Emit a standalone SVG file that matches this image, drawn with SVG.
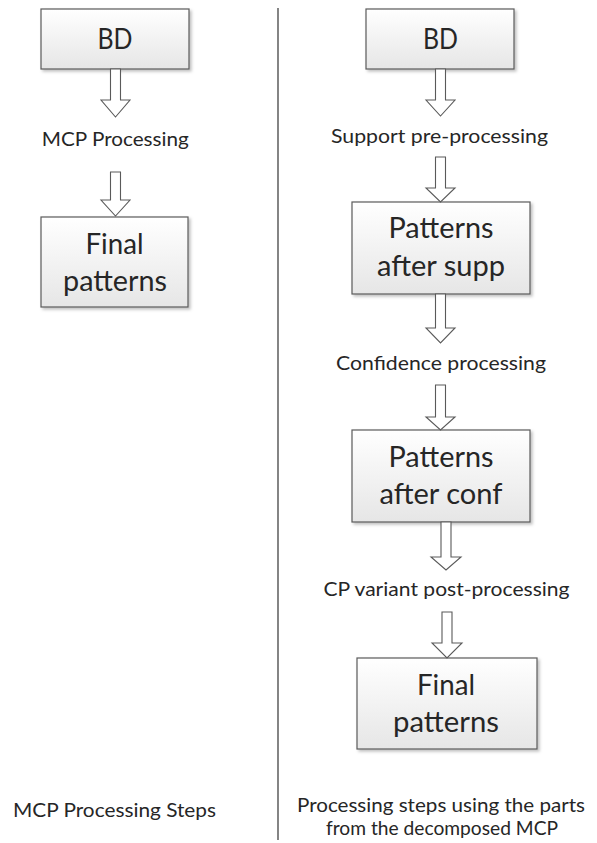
<svg xmlns="http://www.w3.org/2000/svg" width="597" height="843" viewBox="0 0 597 843">
  <defs>
    <linearGradient id="boxfill" x1="0" y1="0" x2="0" y2="1">
      <stop offset="0" stop-color="#ffffff"/>
      <stop offset="1" stop-color="#e6e6e6"/>
    </linearGradient>
    <filter id="shadow" x="-10%" y="-10%" width="125%" height="130%">
      <feDropShadow dx="2" dy="2" stdDeviation="1.5" flood-color="#000000" flood-opacity="0.25"/>
    </filter>
  </defs>
  <style>
    .box { fill: url(#boxfill); stroke: #5a5a5a; stroke-width: 1.2; filter: url(#shadow); }
    .arrow { fill: #ffffff; stroke: #5a5a5a; stroke-width: 1.1; stroke-linejoin: miter; }
    .big { font-family: Lato, "Open Sans", "Liberation Sans", sans-serif; font-size: 28px; fill: #262626; text-anchor: middle; }
    .lbl { font-family: Lato, "Open Sans", "Liberation Sans", sans-serif; font-size: 20px; fill: #262626; text-anchor: middle; }
    .divider { stroke: #333333; stroke-width: 1.2; }
  </style>
  <rect width="597" height="843" fill="#ffffff"/>

  <line class="divider" x1="278" y1="8" x2="278" y2="840"/>

  <!-- Left column -->
  <g id="left-bd">
    <rect class="box" x="41" y="9" width="148" height="60"/>
    <text class="big" x="115" y="49" textLength="35" lengthAdjust="spacingAndGlyphs">BD</text>
  </g>
  <g id="left-mcp-label">
    <text class="lbl" x="115.3" y="145.5" textLength="147" lengthAdjust="spacingAndGlyphs">MCP Processing</text>
  </g>
  <g id="left-final">
    <rect class="box" x="41" y="217" width="147" height="90"/>
    <text class="big" x="114.5" y="254" textLength="58" lengthAdjust="spacingAndGlyphs">Final</text>
    <text class="big" x="115" y="291" textLength="104" lengthAdjust="spacingAndGlyphs">patterns</text>
  </g>
  <g id="left-caption">
    <text class="lbl" x="114.5" y="817" textLength="203" lengthAdjust="spacingAndGlyphs">MCP Processing Steps</text>
  </g>

  <!-- Right column -->
  <g id="right-bd">
    <rect class="box" x="366" y="9" width="148" height="60"/>
    <text class="big" x="440.5" y="49" textLength="35" lengthAdjust="spacingAndGlyphs">BD</text>
  </g>
  <g id="support-label">
    <text class="lbl" x="439.5" y="143" textLength="217" lengthAdjust="spacingAndGlyphs">Support pre-processing</text>
  </g>
  <g id="patterns-after-supp">
    <rect class="box" x="352" y="202" width="178" height="92"/>
    <text class="big" x="441" y="238" textLength="105" lengthAdjust="spacingAndGlyphs">Patterns</text>
    <text class="big" x="441" y="276" textLength="128" lengthAdjust="spacingAndGlyphs">after supp</text>
  </g>
  <g id="confidence-label">
    <text class="lbl" x="441" y="370" textLength="210" lengthAdjust="spacingAndGlyphs">Confidence processing</text>
  </g>
  <g id="patterns-after-conf">
    <rect class="box" x="352" y="430" width="178" height="92"/>
    <text class="big" x="441" y="467" textLength="105" lengthAdjust="spacingAndGlyphs">Patterns</text>
    <text class="big" x="441" y="504" textLength="123" lengthAdjust="spacingAndGlyphs">after conf</text>
  </g>
  <g id="cp-variant-label">
    <text class="lbl" x="446.5" y="596" textLength="246" lengthAdjust="spacingAndGlyphs">CP variant post-processing</text>
  </g>
  <g id="right-final">
    <rect class="box" x="357" y="658" width="180" height="91"/>
    <text class="big" x="446" y="695" textLength="58" lengthAdjust="spacingAndGlyphs">Final</text>
    <text class="big" x="446" y="732" textLength="106" lengthAdjust="spacingAndGlyphs">patterns</text>
  </g>
  <g id="right-caption">
    <text class="lbl" x="441" y="812" textLength="288" lengthAdjust="spacingAndGlyphs">Processing steps using the parts</text>
    <text class="lbl" x="442" y="835" textLength="232" lengthAdjust="spacingAndGlyphs">from the decomposed MCP</text>
  </g>

  <!-- Connectors: block arrows -->
  <g id="connectors">
    <path class="arrow" d="M110.5,69 L120.5,69 L120.5,100 L130,100 L115.5,117 L101,100 L110.5,100 Z"/>
    <path class="arrow" d="M110.5,172 L120.5,172 L120.5,200 L130,200 L115.5,216 L101,200 L110.5,200 Z"/>
    <path class="arrow" d="M435.5,69 L445.5,69 L445.5,100 L455,100 L440.5,116 L426,100 L435.5,100 Z"/>
    <path class="arrow" d="M435.5,157 L445.5,157 L445.5,188 L455,188 L440.5,202 L426,188 L435.5,188 Z"/>
    <path class="arrow" d="M435.5,294 L445.5,294 L445.5,328 L455,328 L440.5,343 L426,328 L435.5,328 Z"/>
    <path class="arrow" d="M435.5,385 L445.5,385 L445.5,417 L455,417 L440.5,430 L426,417 L435.5,417 Z"/>
    <path class="arrow" d="M441,522 L451,522 L451,557 L461,557 L446,570 L431,557 L441,557 Z"/>
    <path class="arrow" d="M442,612 L452,612 L452,643 L462,643 L447,658 L432,643 L442,643 Z"/>
  </g>
</svg>
